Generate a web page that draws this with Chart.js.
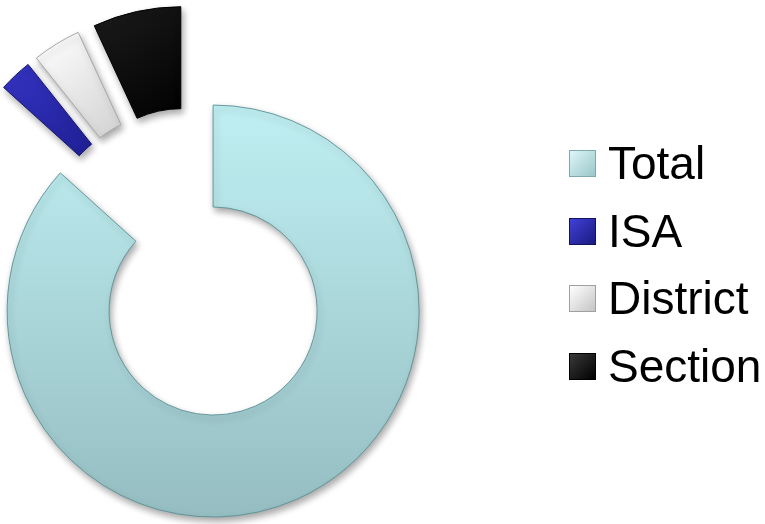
<!DOCTYPE html>
<html>
<head>
<meta charset="utf-8">
<script src="https://cdn.jsdelivr.net/npm/chart.js@4.4.0/dist/chart.umd.min.js"></script>
<style>
html,body{margin:0;padding:0;background:#fff;}
#wrap{position:relative;width:765px;height:524px;overflow:hidden;}
#c{position:absolute;left:0;top:0;}
#legend{position:absolute;left:569px;top:130px;font-family:"Liberation Sans",Arial,sans-serif;font-size:46px;color:#000;}
.item{display:flex;align-items:center;height:67.5px;line-height:67.5px;white-space:nowrap;}
.box{width:27px;height:27px;margin-right:12px;box-sizing:border-box;}
</style>
</head>
<body>
<div id="wrap">
<canvas id="c" width="765" height="524"></canvas>
<div id="legend"></div>
</div>
<script>
var labels = ['Total', 'ISA', 'District', 'Section'];
var values = [86.7, 2.6, 3.8, 6.9];

// styling
var gradStops = [
  ['#c0f0f3', '#95bdc1'],
  ['#3434c4', '#1e1e92'],
  ['#ffffff', '#d0d0d0'],
  ['#1c1c1c', '#000000']
];
var borders = ['rgba(90,145,150,0.9)', '#15156e', '#a8a8a8', '#000000'];
var explode = 52;

function fillFor(context) {
  var ctx = context.chart.ctx;
  var i = context.dataIndex;
  var g;
  if (i == 0) g = ctx.createLinearGradient(0, 100, 0, 520);
  else if (i == 1) g = ctx.createLinearGradient(5, 65, 100, 155);
  else if (i == 2) g = ctx.createLinearGradient(40, 35, 125, 140);
  else g = ctx.createLinearGradient(95, 5, 185, 120);
  g.addColorStop(0, gradStops[i][0]);
  g.addColorStop(1, gradStops[i][1]);
  return g;
}

// push every slice out along its middle angle (exploded doughnut)
var explodePlugin = {
  id: 'explode',
  afterDatasetUpdate: function(chart, args) {
    var meta = chart.getDatasetMeta(args.index);
    meta.data.forEach(function(arc) {
      var mid = (arc.startAngle + arc.endAngle) / 2;
      arc.x += Math.cos(mid) * explode;
      arc.y += Math.sin(mid) * explode;
    });
  }
};

var shadowPlugin = {
  id: 'shadow',
  beforeDatasetsDraw: function(chart) {
    var ctx = chart.ctx;
    ctx.save();
    ctx.shadowColor = 'rgba(0,0,0,0.35)';
    ctx.shadowBlur = 7;
    ctx.shadowOffsetX = 2;
    ctx.shadowOffsetY = 4;
  },
  afterDatasetsDraw: function(chart) {
    chart.ctx.restore();
  }
};

new Chart(document.getElementById('c'), {
  type: 'doughnut',
  data: {
    labels: labels,
    datasets: [{
      data: values,
      backgroundColor: fillFor,
      borderColor: borders,
      borderWidth: 1
    }]
  },
  options: {
    responsive: false,
    animation: false,
    radius: 206,
    cutout: '50.5%',
    rotation: 0,
    layout: { padding: { left: 0, right: 381, top: 3, bottom: 0 } },
    plugins: {
      legend: { display: false },
      tooltip: { enabled: false }
    }
  },
  plugins: [explodePlugin, shadowPlugin]
});

// legend
var boxStyles = [
  'background:linear-gradient(135deg,#dcf6f8,#9cc6c9);border:1px solid #7fa9ad;',
  'background:linear-gradient(135deg,#4040d8,#1a1a80);border:1px solid #12125e;',
  'background:linear-gradient(135deg,#ffffff,#c4c4c4);border:1px solid #a0a0a0;',
  'background:linear-gradient(135deg,#3a3a3a,#000000);border:1px solid #000;'
];
var leg = document.getElementById('legend');
for (var i = 0; i < labels.length; i++) {
  var row = document.createElement('div');
  row.className = 'item';
  row.innerHTML = '<span class="box" style="' + boxStyles[i] + '"></span><span>' + labels[i] + '</span>';
  leg.appendChild(row);
}
</script>
</body>
</html>
